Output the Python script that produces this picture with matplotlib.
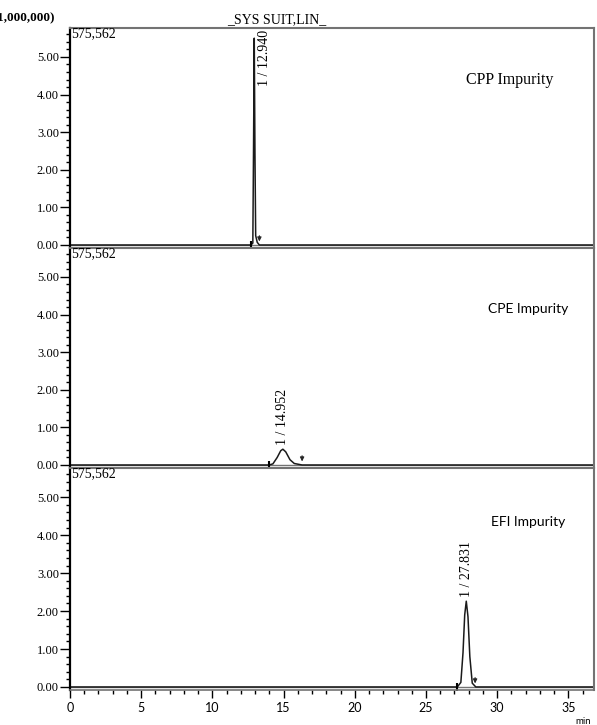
import matplotlib
matplotlib.use("Agg")
import matplotlib.pyplot as plt
from matplotlib.ticker import MultipleLocator, FormatStrFormatter

# chromatogram traces (time in min, signal x1,000,000)
cpp_t = [0, 12.70, 12.84, 12.89, 12.94, 12.99, 13.04, 13.15, 13.30, 36.8]
cpp_y = [0, 0, 0.05, 2.6, 5.50, 2.4, 0.25, 0.07, 0.0, 0]
cpe_t = [0, 13.98, 14.25, 14.55, 14.80, 14.95, 15.15, 15.45, 15.75, 16.30, 36.8]
cpe_y = [0, 0, 0.03, 0.20, 0.38, 0.42, 0.35, 0.14, 0.04, 0.0, 0]
efi_t = [0, 27.20, 27.45, 27.60, 27.72, 27.83, 27.95, 28.08, 28.25, 28.50, 36.8]
efi_y = [0, 0, 0.12, 0.9, 1.9, 2.26, 1.85, 0.8, 0.1, 0.0, 0]

peak_rt = [12.940, 14.952, 27.831]
peak_top = [5.50, 0.42, 2.26]
peak_start = [12.70, 13.98, 27.20]
peak_end = [13.30, 16.30, 28.45]
names = ["CPP Impurity", "CPE Impurity", "EFI Impurity"]
max_label = "575,562"

SERIF = "Liberation Serif"
SANS = "Lato"

W, H = 597, 725
fig = plt.figure(figsize=(W / 100, H / 100), dpi=100)

left, right = 70, 594
bounds = [(28, 248), (248, 468), (468, 690)]
traces = [(cpp_t, cpp_y), (cpe_t, cpe_y), (efi_t, efi_y)]

for i, ((top, bot), (t, y)) in enumerate(zip(bounds, traces)):
    ax = fig.add_axes([left / W, 1 - bot / H, (right - left) / W, (bot - top) / H])
    ax.set_xlim(0, 36.8)
    ax.set_ylim(-0.08, 5.77)
    ax.axhline(0, color="0.45", lw=1.0)
    ax.plot(t, y, color="0.1", lw=1.1)

    ax.plot(peak_start[i], -0.02, marker="|", color="black", ms=7, mew=1.5)
    ax.annotate("", xy=(peak_end[i], 0.02), xytext=(peak_end[i], 0.32),
                arrowprops=dict(arrowstyle="-|>", lw=0.8, color="0.15",
                                mutation_scale=6))

    label = f"1 / {peak_rt[i]:.3f}"
    if i == 0:
        ax.text(peak_rt[i] + 0.75, 5.72, label, rotation=90, ha="center",
                va="top", family=SERIF, fontsize=10)
    else:
        ax.text(peak_rt[i], peak_top[i] + 0.1, label, rotation=90,
                ha="center", va="bottom", family=SERIF, fontsize=10)

    ax.text(0.1, 5.8, max_label, ha="left", va="top", family=SERIF,
            fontsize=10)

    if i == 0:
        ax.text(30.9, 4.39, names[i], ha="center", va="center",
                family=SERIF, fontsize=11.5)
    else:
        ax.text(32.2, 4.14 if i == 1 else 4.35, names[i], ha="center",
                va="center", family=SANS, fontsize=10)

    for side in ("top", "right"):
        ax.spines[side].set_color("0.45")
        ax.spines[side].set_linewidth(1.5)
    ax.spines["bottom"].set_color("0.45")
    ax.spines["bottom"].set_linewidth(1.2)
    ax.spines["left"].set_color("black")
    ax.spines["left"].set_linewidth(1.6)

    ax.yaxis.set_major_locator(MultipleLocator(1))
    ax.yaxis.set_minor_locator(MultipleLocator(0.2))
    ax.yaxis.set_major_formatter(FormatStrFormatter("%.2f"))
    ax.tick_params(axis="y", which="major", direction="out", length=7,
                   width=1, pad=1, labelsize=9)
    ax.tick_params(axis="y", which="minor", direction="out", length=3,
                   width=1)
    for lab in ax.get_yticklabels():
        lab.set_family(SERIF)

    ax.xaxis.set_major_locator(MultipleLocator(5))
    ax.xaxis.set_minor_locator(MultipleLocator(1))
    if i < 2:
        ax.tick_params(axis="x", which="both", bottom=False, labelbottom=False)
    else:
        ax.tick_params(axis="x", which="major", direction="out", length=6,
                       width=1, labelsize=9, pad=3)
        ax.tick_params(axis="x", which="minor", direction="out", length=3,
                       width=1)
        for lab in ax.get_xticklabels():
            lab.set_family(SANS)

# the multiplier label is cut at the left edge in the source picture too
fig.text(55 / W, 1 - 18 / H, "(x1,000,000)", ha="right", va="center",
         family=SERIF, fontsize=9.5, weight="bold")
fig.text(277 / W, 1 - 20 / H, "_SYS SUIT,LIN_", ha="center", va="center",
         family=SERIF, fontsize=10)
fig.text(583 / W, 1 - 721 / H, "min", ha="center", va="center",
         family=SANS, fontsize=7)

fig.savefig("out.png", dpi=100)
